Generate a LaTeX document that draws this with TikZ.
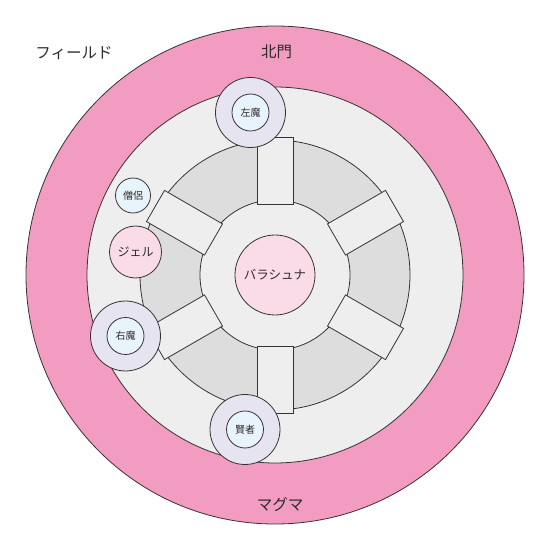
\documentclass[tikz,border=0pt]{standalone}
\usepackage{fontspec}
\usetikzlibrary{calc}
\setmainfont{Noto Sans CJK JP}
\definecolor{lineC}{HTML}{3A3232}
\definecolor{txtC}{HTML}{2E2A2A}
\definecolor{pinkC}{HTML}{F19CC0}
\definecolor{lgrayC}{HTML}{EEEEEE}
\definecolor{dgrayC}{HTML}{DDDDDD}
\definecolor{lpinkC}{HTML}{FADCE8}
\definecolor{lavC}{HTML}{E7E4F2}
\definecolor{lblueC}{HTML}{E8F4FC}
\tikzset{
  ring/.style={circle, draw=lineC, line width=0.8pt, inner sep=0pt},
  bridge/.style={rectangle, draw=lineC, line width=0.8pt, fill=lgrayC, minimum width=36pt, minimum height=67pt, inner sep=0pt},
  bigunit/.style={circle, draw=lineC, line width=0.8pt, fill=lavC, minimum size=70pt, inner sep=0pt},
  innerunit/.style={circle, draw=lineC, line width=0.8pt, fill=lblueC, minimum size=37pt, inner sep=0pt, text=txtC, font=\fontsize{10}{11}\selectfont},
  biglabel/.style={text=txtC, font=\fontsize{15.5}{17}\selectfont, inner sep=0pt},
}
\begin{document}
\begin{tikzpicture}[x=1pt,y=1pt]
\useasboundingbox (0,0) rectangle (550,550);
% field rings
\node[ring, fill=pinkC, minimum size=498pt] (field) at (275,275) {};
\node[ring, fill=lgrayC, minimum size=376pt] (plaza) at (275,275) {};
\node[ring, fill=dgrayC, minimum size=270pt] (track) at (275,275) {};
\node[ring, fill=lgrayC, minimum size=150pt] (core) at (275,275) {};
% bridges
\foreach \a/\n in {90/b1,30/b2,-30/b3,-90/b4,210/b5,150/b6}{
  \node[bridge, rotate=\a-90] (\n) at ($(275,275)+(\a:104.5)$) {};
}
% center
\node[ring, fill=lpinkC, minimum size=80pt, text=txtC, font=\fontsize{12.5}{14}\selectfont] (boss) at (275,275) {バラシュナ};
% units
\node[bigunit] (lmO) at (250.5,437.5) {};
\node[innerunit] (lm) at (lmO) {左魔};
\node[bigunit] (rmO) at (125.5,214) {};
\node[innerunit] (rm) at (rmO) {右魔};
\node[bigunit] (sgO) at (245,120.5) {};
\node[innerunit] (sg) at (sgO) {賢者};
\node[ring, fill=lblueC, minimum size=35pt, text=txtC, font=\fontsize{10}{11}\selectfont] (monk) at (133,354.5) {僧侶};
\node[ring, fill=lpinkC, minimum size=52pt, text=txtC, font=\fontsize{12}{13}\selectfont] (gel) at (135.5,298) {ジェル};
% labels
\node[biglabel] (fieldlbl) at (74,497) {フィールド};
\node[biglabel] (north) at (276.5,498) {北門};
\node[biglabel] (magma) at (280,45) {マグマ};
\end{tikzpicture}
\end{document}
